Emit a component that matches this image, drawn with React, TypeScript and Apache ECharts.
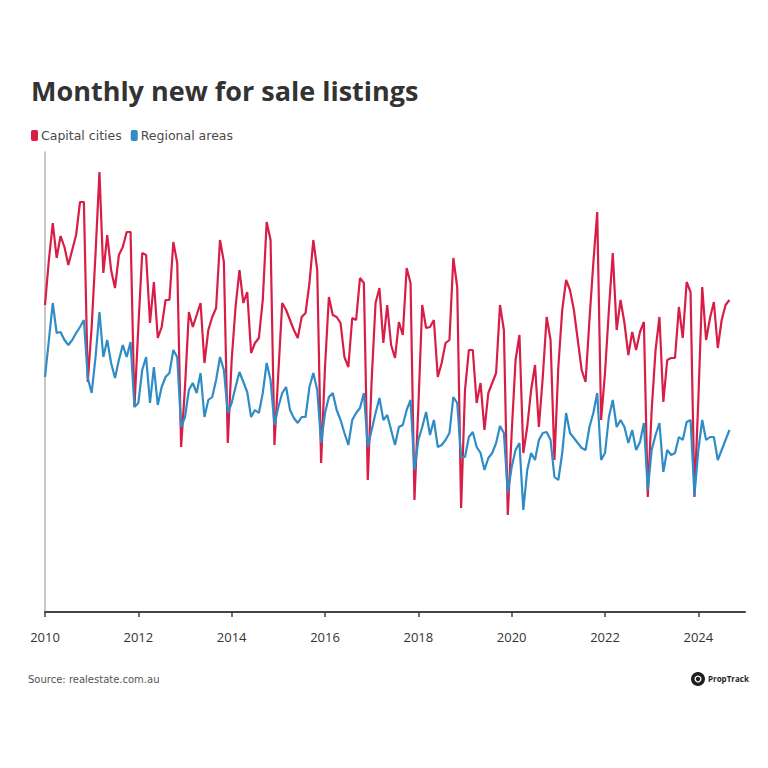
import React, { useEffect, useRef } from "react";
import * as echarts from "echarts";

// Monthly new for-sale listings (thousands), Jan 2010 – Sep 2024
const START_YEAR = 2010;
const seriesNames = ["Capital cities", "Regional areas"];
const capitalCities = [
  30.7, 35.2, 38.9, 35.4, 37.6, 36.5, 34.7, 36.2, 37.7, 41.0, 41.0, 23.0,
  28.5, 35.9, 44.0, 33.9, 37.7, 34.2, 32.4, 35.7, 36.5, 38.0, 38.0, 20.5,
  28.5, 35.9, 35.7, 28.9, 33.0, 27.4, 28.5, 31.2, 31.2, 37.0, 34.9, 16.5,
  22.5, 30.0, 28.5, 29.7, 30.9, 24.9, 28.2, 29.5, 30.4, 37.2, 35.0, 16.9,
  25.2, 30.5, 34.2, 30.9, 32.0, 25.9, 26.9, 27.4, 31.2, 39.0, 37.2, 16.7,
  23.9, 30.9, 30.2, 29.2, 28.2, 27.4, 29.5, 29.9, 32.9, 37.2, 34.2, 14.9,
  24.5, 31.5, 29.7, 29.5, 28.9, 25.5, 24.5, 29.4, 29.2, 33.4, 32.9, 13.2,
  23.2, 30.9, 32.4, 26.9, 30.7, 26.7, 25.4, 29.0, 27.7, 34.4, 32.9, 11.2,
  20.5, 30.7, 28.4, 28.5, 29.2, 23.5, 24.9, 26.9, 27.2, 35.4, 32.5, 10.4,
  22.2, 26.2, 26.2, 20.9, 22.9, 18.2, 21.9, 22.9, 23.9, 30.7, 28.2, 9.7,
  17.9, 25.2, 27.7, 15.9, 18.5, 22.2, 24.7, 18.5, 23.5, 29.5, 27.2, 15.2,
  24.5, 30.2, 33.2, 32.2, 30.2, 27.2, 24.2, 23.0, 29.2, 34.9, 40.0, 19.2,
  23.9, 30.2, 35.9, 28.2, 31.2, 28.9, 25.7, 28.0, 26.2, 28.0, 29.0, 11.5,
  20.2, 26.2, 29.5, 21.0, 25.2, 25.4, 25.4, 30.5, 27.4, 33.0, 32.0, 11.5,
  21.2, 32.5, 27.2, 29.4, 31.0, 26.4, 29.2, 30.7, 31.2,
];
const regionalAreas = [
  23.5, 27.2, 30.9, 27.9, 28.0, 27.2, 26.7, 27.2, 27.9, 28.5, 29.2, 23.4,
  21.9, 25.5, 30.0, 25.5, 27.2, 24.9, 23.4, 25.2, 26.7, 25.5, 27.0, 20.5,
  20.9, 24.2, 25.5, 20.9, 24.5, 20.7, 22.5, 23.5, 23.9, 26.2, 25.5, 18.5,
  19.5, 22.2, 22.9, 21.9, 23.9, 19.5, 21.2, 21.5, 23.2, 25.5, 24.2, 19.9,
  20.9, 22.5, 24.0, 23.0, 22.0, 19.5, 20.2, 19.9, 21.9, 24.9, 23.2, 18.7,
  20.5, 21.9, 22.5, 20.2, 19.4, 18.9, 19.5, 19.5, 22.5, 23.9, 22.2, 16.9,
  19.9, 21.5, 21.9, 20.2, 19.2, 17.9, 16.7, 19.2, 19.9, 20.4, 21.9, 16.5,
  18.2, 19.9, 21.4, 19.2, 19.7, 18.2, 16.7, 18.5, 18.7, 20.2, 21.2, 14.2,
  17.2, 18.5, 20.0, 17.7, 19.2, 16.5, 16.7, 17.2, 17.9, 21.5, 20.9, 15.5,
  15.5, 17.5, 18.0, 16.5, 15.9, 14.2, 15.4, 15.9, 16.9, 18.6, 17.9, 11.9,
  14.5, 16.2, 16.9, 10.2, 14.2, 15.9, 15.2, 17.2, 17.9, 18.0, 17.2, 13.5,
  13.2, 15.9, 19.9, 17.9, 17.4, 16.9, 16.4, 16.2, 18.5, 19.9, 21.9, 15.2,
  15.9, 19.5, 21.2, 18.5, 19.2, 18.5, 16.9, 18.2, 16.2, 17.0, 18.9, 12.2,
  16.2, 17.7, 18.9, 14.0, 16.2, 15.7, 15.9, 17.5, 17.2, 19.0, 19.2, 11.7,
  16.2, 19.2, 17.2, 17.5, 17.5, 15.2, 16.2, 17.2, 18.2,
];
const xTickValues = [2010, 2012, 2014, 2016, 2018, 2020, 2022, 2024];

const toPoints = (vals: number[]) =>
  vals.map((v, i) => [START_YEAR + i / 12, v]);

export default function App() {
  const ref = useRef<HTMLDivElement>(null);
  useEffect(() => {
    if (!ref.current) return;
    const chart = echarts.init(ref.current, null, { renderer: "svg" });
    const font = "'Open Sans', Inter, sans-serif";
    const wideFont = "'DejaVu Sans', 'Open Sans', sans-serif";
    chart.setOption({
      animation: false,
      backgroundColor: "#ffffff",
      textStyle: { fontFamily: font },
      title: {
        text: "Monthly new for sale listings",
        left: 26,
        top: 72,
        textStyle: { fontSize: 27, fontWeight: 700, color: "#333333", fontFamily: font },
      },
      legend: {
        left: 26,
        top: 124,
        icon: "roundRect",
        itemWidth: 7,
        itemHeight: 11,
        itemGap: 9,
        textStyle: { fontSize: 12.5, color: "#4a4a4a", fontFamily: wideFont, padding: [0, 0, 0, -2] },
        data: seriesNames,
      },
      grid: { left: 45, right: 23, top: 152, bottom: 156, containLabel: false },
      xAxis: {
        type: "value",
        min: 2010,
        max: 2025,
        interval: 2,
        axisLine: { show: true, lineStyle: { color: "#444444", width: 2 } },
        axisTick: {
          show: true,
          length: 5,
          customValues: xTickValues,
          lineStyle: { color: "#444444", width: 1.5 },
        },
        axisLabel: {
          customValues: xTickValues,
          margin: 18,
          fontSize: 13,
          color: "#333333",
          fontFamily: font,
          formatter: (v: number) => String(v),
        },
        splitLine: { show: false },
      },
      yAxis: {
        type: "value",
        min: 0,
        max: 46,
        axisLine: { show: true, lineStyle: { color: "#b5b5b5", width: 1.5 } },
        axisTick: { show: false },
        axisLabel: { show: false },
        splitLine: { show: false },
      },
      series: [
        {
          name: seriesNames[0],
          type: "line",
          data: toPoints(capitalCities),
          showSymbol: false,
          lineStyle: { width: 2.2, color: "#d81e47" },
          itemStyle: { color: "#d81e47" },
        },
        {
          name: seriesNames[1],
          type: "line",
          data: toPoints(regionalAreas),
          showSymbol: false,
          lineStyle: { width: 2.2, color: "#2f8cc6" },
          itemStyle: { color: "#2f8cc6" },
        },
      ],
      graphic: [
        {
          type: "text",
          left: 28,
          top: 674,
          style: { text: "Source: realestate.com.au", fontSize: 10, fill: "#555555", fontFamily: wideFont },
        },
        {
          type: "circle",
          shape: { cx: 698, cy: 679, r: 7 },
          style: { fill: "#1f1f1f" },
        },
        {
          type: "ring",
          shape: { cx: 698, cy: 679, r: 3.5, r0: 2.2 },
          style: { fill: "#ffffff" },
        },
        {
          type: "text",
          left: 708,
          top: 674,
          style: { text: "PropTrack", fontSize: 8, fontWeight: 700, fill: "#1f1f1f", fontFamily: font },
        },
      ],
    });
    return () => chart.dispose();
  }, []);
  return (
    <div
      ref={ref}
      style={{ position: "fixed", left: 0, top: 0, width: 768, height: 768, background: "#fff" }}
    />
  );
}
